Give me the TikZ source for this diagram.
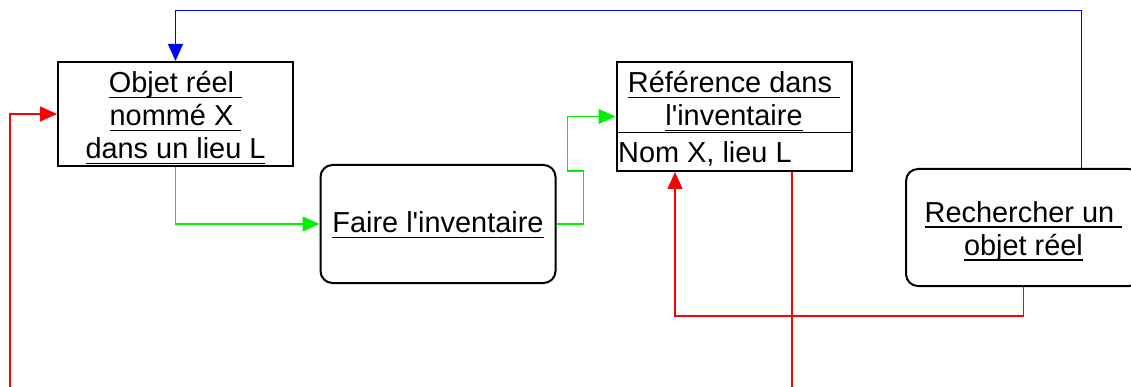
\documentclass[tikz,border=0pt]{standalone}
\usepackage{fontspec}
\setmainfont{Liberation Sans}
\usetikzlibrary{arrows.meta}
\newcommand\myul[1]{\setbox0\hbox{#1}\rlap{\rule[-0.19em]{\wd0}{0.055em}}\box0}
\newcommand\ap{\textquotesingle}
\definecolor{cgreen}{RGB}{0,240,0}
\definecolor{cred}{RGB}{255,0,0}
\definecolor{cblue}{RGB}{0,0,255}
\tikzset{
  txt/.style={font=\fontsize{28.9}{33}\selectfont, align=center, inner sep=0pt},
  plainbox/.style={draw=black, line width=2pt, minimum width=235pt, inner sep=0pt},
  roundbox/.style={plainbox, rounded corners=12pt},
  conn/.style={line width=1.2pt, -{Triangle[length=17pt,width=15pt]}}
}
\begin{document}
\begin{tikzpicture}[x=1pt,y=-1pt]
\useasboundingbox (0,0) rectangle (1131,387);
% boxes
\node[plainbox, minimum height=104pt] (b1) at (175.5,114) {};
\node[txt] (b1t) at (175.5,118)
  {\myul{Objet réel\ }\\\myul{nommé X\ }\\\myul{dans un lieu L}};
\node[roundbox, minimum height=118pt] (faire) at (438,224) {};
\node[txt] (fairet) at (438,225) {\myul{Faire l\ap inventaire}};
\node[plainbox, minimum height=109pt] (ref) at (734,116.5) {};
\node[txt] (reftitle) at (734,101.5)
  {\myul{Référence dans\ }\\\myul{l\ap inventaire}};
\node[txt, anchor=west] (reffield) at (618,153.5) {Nom X, lieu L};
\draw[line width=1pt] (ref.west |- 0,133) -- (ref.east |- 0,133);
\node[roundbox, minimum height=117pt] (rech) at (1023.5,227.5) {};
\node[txt] (recht) at (1023.5,231.5)
  {\myul{Rechercher un\ }\\\myul{objet réel}};
% connectors
\draw[conn, cblue, line width=1pt] ([xshift=57.5pt]rech.north) -- ++(0,-157) -| (b1.north);
\draw[conn, cgreen] (b1.south) |- (faire.west);
\draw[conn, cgreen] (faire.east) -- ++(27,0) -- ++(0,-53) -- ++(-16,0) |- (ref.west);
\draw[conn, cred] (rech.south) -- ++(0,29) -| ([xshift=-59pt]ref.south);
\coordinate (offl) at (10,430);
\draw[conn, cred] ([xshift=58pt]ref.south) |- (offl) |- (b1.west);
\end{tikzpicture}
\end{document}
